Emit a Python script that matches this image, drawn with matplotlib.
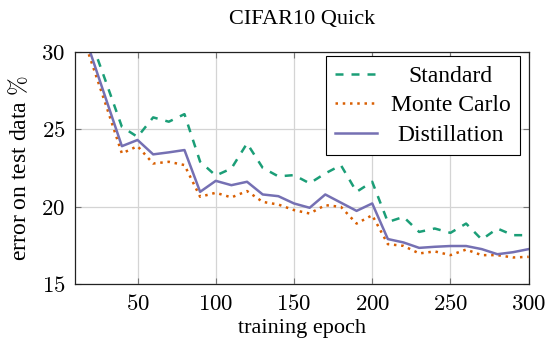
import matplotlib
matplotlib.use('Agg')
import matplotlib.pyplot as plt
from matplotlib.ticker import FuncFormatter

plt.rcParams['font.family'] = ['Liberation Serif', 'DejaVu Serif']
plt.rcParams['mathtext.fontset'] = 'cm'

epochs = list(range(10, 301, 10))
standard = [33.6, 30.8, 28.0, 25.15, 24.5, 25.76, 25.48, 25.97, 22.9, 22.0,
            22.46, 24.08, 22.5, 21.95, 22.03, 21.5, 22.14, 22.67, 20.95, 21.6,
            19.0, 19.33, 18.36, 18.58, 18.3, 18.9, 17.87, 18.58, 18.15, 18.15]
monte_carlo = [32.5, 29.5, 26.5, 23.43, 23.9, 22.78, 22.89, 22.68, 20.63, 20.89,
               20.59, 21.0, 20.3, 20.13, 19.77, 19.55, 20.09, 19.98, 18.9, 19.44,
               17.57, 17.46, 16.97, 17.1, 16.86, 17.22, 16.86, 16.86, 16.71, 16.75]
distillation = [32.9, 29.9, 26.9, 23.9, 24.3, 23.37, 23.5, 23.65, 20.95, 21.66,
                21.38, 21.6, 20.78, 20.67, 20.2, 19.92, 20.78, 20.25, 19.72, 20.2,
                17.9, 17.68, 17.33, 17.4, 17.45, 17.45, 17.25, 16.92, 17.05, 17.25]
xticks = [50, 100, 150, 200, 250, 300]
yticks = [15, 20, 25, 30]

fig = plt.figure(figsize=(5.47, 3.45), dpi=100)
ax = fig.add_axes([0.137, 0.177, 0.8295, 0.673])

ax.plot(epochs, standard, color='#1b9e77', lw=1.8, dashes=(3.2, 3.2), label='Standard')
ax.plot(epochs, monte_carlo, color='#d95f02', lw=1.8, dashes=(1, 1.9), label='Monte Carlo')
ax.plot(epochs, distillation, color='#7570b3', lw=1.8, label='Distillation')

ax.set_xlim(10, 300)
ax.set_ylim(15, 30)
ax.set_xticks(xticks)
ax.set_yticks(yticks)
fmt = FuncFormatter(lambda v, p: f"${v:g}$")
ax.xaxis.set_major_formatter(fmt)
ax.yaxis.set_major_formatter(fmt)
ax.tick_params(direction='in', length=4, width=0.8, color='#777777',
               labelsize=16.5, pad=7, top=True, right=True)
ax.grid(True, color='#d4d4d4', lw=0.9)
for s in ax.spines.values():
    s.set_linewidth(0.9)
    s.set_color('#222222')

ax.set_title('CIFAR10 Quick', fontsize=16, pad=20)
ax.set_xlabel('training epoch', fontsize=16, labelpad=3)
ax.set_ylabel(r'error on test data $\%$', fontsize=17, labelpad=7)

leg = ax.legend(loc='upper right', bbox_to_anchor=(0.981, 0.981), borderaxespad=0,
                fontsize=17, fancybox=False, framealpha=1, edgecolor='black',
                handlelength=1.75, labelspacing=0.33, borderpad=0.4, handletextpad=0.6)
leg.get_frame().set_linewidth(0.8)

# center legend entries like pgfplots does
fig.canvas.draw()
r = fig.canvas.get_renderer()
widths = [t.get_window_extent(r).width for t in leg.get_texts()]
wmax = max(widths)
for t, w in zip(leg.get_texts(), widths):
    t.set_position(((wmax - w) / 2, 0))

fig.savefig('out.png', dpi=100)
